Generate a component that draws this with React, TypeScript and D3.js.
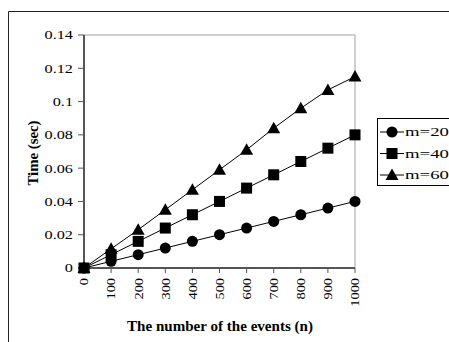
import React from "react";
import * as d3 from "d3";

const events = [0, 100, 200, 300, 400, 500, 600, 700, 800, 900, 1000];
const m20 = [0, 0.004, 0.008, 0.012, 0.016, 0.02, 0.024, 0.028, 0.032, 0.036, 0.04];
const m40 = [0, 0.008, 0.016, 0.024, 0.032, 0.04, 0.048, 0.056, 0.064, 0.072, 0.08];
const m60 = [0, 0.0115, 0.023, 0.035, 0.047, 0.059, 0.071, 0.084, 0.096, 0.107, 0.115];
const yTicks = [0, 0.02, 0.04, 0.06, 0.08, 0.1, 0.12, 0.14];
const seriesNames = ["m=20", "m=40", "m=60"];

const font = "'Liberation Serif', 'Times New Roman', serif";

function Marker({ kind, x, y }: { kind: string; x: number; y: number }) {
  if (kind === "circle") return <circle cx={x} cy={y} r={5.5} fill="#000" />;
  if (kind === "square") return <rect x={x - 5.5} y={y - 5.5} width={11} height={11} fill="#000" />;
  return <path d={`M${x},${y - 6.5}L${x + 6.5},${y + 5}L${x - 6.5},${y + 5}Z`} fill="#000" />;
}

export default function App() {
  const width = 449;
  const height = 342;
  const plot = { left: 84, right: 355, top: 35, bottom: 268 };

  const x = d3
    .scalePoint<number>()
    .domain(events)
    .range([plot.left, plot.right]);
  const y = d3.scaleLinear().domain([0, 0.14]).range([plot.bottom, plot.top]);

  const series = [
    { name: seriesNames[0], values: m20, kind: "circle" },
    { name: seriesNames[1], values: m40, kind: "square" },
    { name: seriesNames[2], values: m60, kind: "triangle" },
  ];

  const line = d3
    .line<number>()
    .x((_, i) => x(events[i]) as number)
    .y((d) => y(d));

  return (
    <svg
      width={width}
      height={height}
      style={{ position: "absolute", left: 0, top: 0, background: "#fff" }}
      fontFamily={font}
    >
      {/* outer frame */}
      <line x1={8.5} x2={width} y1={11.5} y2={11.5} stroke="#222" />
      <line x1={8.5} x2={8.5} y1={11.5} y2={height} stroke="#222" />

      {/* plot border */}
      <path
        d={`M${plot.left},${plot.top}H${plot.right}V${plot.bottom}`}
        fill="none"
        stroke="#a0a0a0"
      />

      {/* y axis */}
      <line x1={plot.left} x2={plot.left} y1={plot.top} y2={plot.bottom} stroke="#555" strokeWidth={2} />
      {yTicks.map((t) => (
        <g key={t}>
          <line x1={plot.left - 6} x2={plot.left} y1={y(t)} y2={y(t)} stroke="#555" />
          <text
            transform={`translate(73,${y(t)}) scale(1.3,1)`}
            dy="0.35em"
            textAnchor="end"
            fontSize={12.5}
          >
            {t === 0 ? "0" : String(t)}
          </text>
        </g>
      ))}

      {/* x axis */}
      <line x1={plot.left} x2={plot.right} y1={plot.bottom} y2={plot.bottom} stroke="#555" strokeWidth={2} />
      {events.map((e) => (
        <g key={e}>
          <line x1={x(e)} x2={x(e)} y1={plot.bottom} y2={plot.bottom + 5} stroke="#555" />
          <text
            transform={`translate(${x(e)},278) rotate(-90) scale(1.15,1)`}
            textAnchor="end"
            dy="0.35em"
            fontSize={12.5}
          >
            {e}
          </text>
        </g>
      ))}

      {/* titles */}
      <text x={220} y={331} textAnchor="middle" fontSize={14} fontWeight="bold" textLength={186} lengthAdjust="spacingAndGlyphs">
        The number of the events (n)
      </text>
      <text
        transform={`translate(33,153) rotate(-90)`}
        textAnchor="middle"
        dy="0.35em"
        fontSize={14}
        fontWeight="bold"
        textLength={65}
        lengthAdjust="spacingAndGlyphs"
      >
        Time (sec)
      </text>

      {/* series */}
      {series.map((s) => (
        <g key={s.name}>
          <path d={line(s.values) ?? ""} fill="none" stroke="#000" strokeWidth={1} />
          {s.values.map((v, i) => (
            <Marker key={i} kind={s.kind} x={x(events[i]) as number} y={y(v)} />
          ))}
        </g>
      ))}

      {/* legend */}
      <rect x={377.5} y={118.5} width={80} height={67} fill="#fff" stroke="#000" />
      {series.map((s, i) => {
        const ly = 132 + i * 21.5;
        return (
          <g key={s.name}>
            <line x1={380} x2={404} y1={ly} y2={ly} stroke="#000" />
            <Marker kind={s.kind} x={392} y={ly} />
            <text transform={`translate(405,${ly}) scale(1.5,1)`} dy="0.35em" fontSize={12.5}>
              {s.name}
            </text>
          </g>
        );
      })}
    </svg>
  );
}
